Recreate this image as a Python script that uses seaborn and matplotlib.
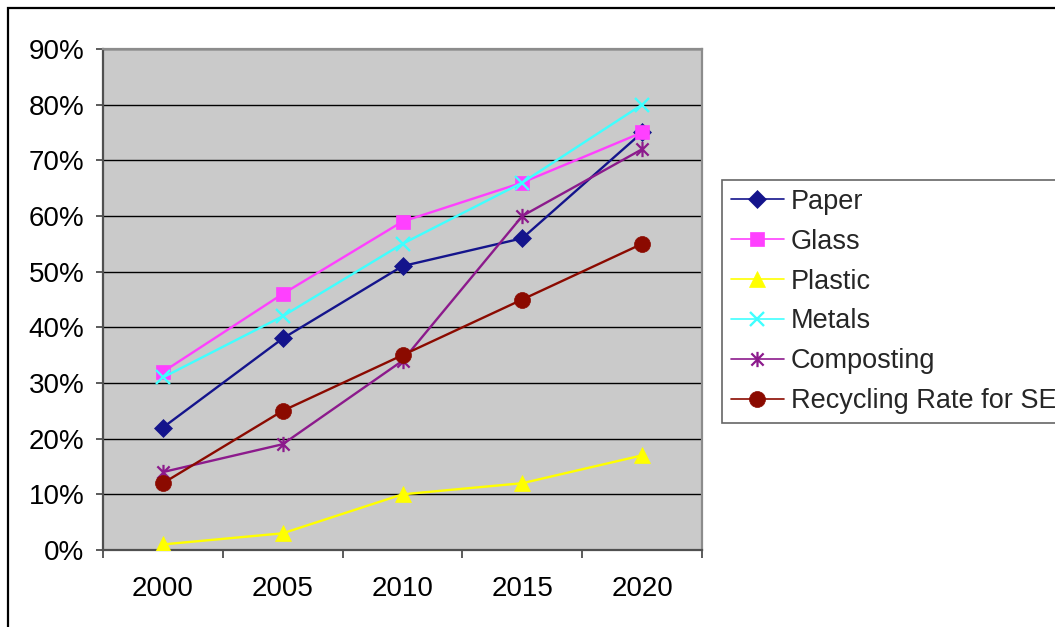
import matplotlib
matplotlib.use("Agg")
import matplotlib.pyplot as plt
from matplotlib.path import Path
from matplotlib.patches import Rectangle
from matplotlib.ticker import FixedLocator, PercentFormatter, NullFormatter
import seaborn as sns
import pandas as pd

# Recycling rates by material, share of waste stream
years = ["2000", "2005", "2010", "2015", "2020"]
paper = [0.22, 0.38, 0.51, 0.56, 0.75]
glass = [0.32, 0.46, 0.59, 0.66, 0.75]
plastic = [0.01, 0.03, 0.10, 0.12, 0.17]
metals = [0.31, 0.42, 0.55, 0.66, 0.80]
composting = [0.14, 0.19, 0.34, 0.60, 0.72]
overall = [0.12, 0.25, 0.35, 0.45, 0.55]

series_names = ["Paper", "Glass", "Plastic", "Metals", "Composting",
                "Recycling Rate for SE"]
series_values = [paper, glass, plastic, metals, composting, overall]

# asterisk marker: an X crossed by a vertical stroke
star = Path(
    [(-1, -1), (1, 1), (-1, 1), (1, -1), (0, -1.25), (0, 1.25)],
    [Path.MOVETO, Path.LINETO, Path.MOVETO, Path.LINETO, Path.MOVETO, Path.LINETO],
)

styles = {
    "Paper": dict(color="#14148C", marker="D", ms=9),
    "Glass": dict(color="#FF40FF", marker="s", ms=10),
    "Plastic": dict(color="#FFFF00", marker="^", ms=11.5),
    "Metals": dict(color="#40FFFF", marker="x", ms=10, mew=1.7),
    "Composting": dict(color="#8C1A8C", marker=star, ms=11, mew=1.6),
    "Recycling Rate for SE": dict(color="#8B0A00", marker="o", ms=11.5),
}

sns.set_theme(style="white")
plt.rcParams["font.family"] = ["Liberation Sans", "DejaVu Sans"]

fig = plt.figure(figsize=(10.55, 6.27), dpi=100)
ax = fig.add_axes([103 / 1055, 1 - 550 / 627, 599 / 1055, 501 / 627])
ax.set_facecolor("#CACACA")

df = pd.DataFrame({"year": years})
df["pos"] = range(len(years))
for name, vals in zip(series_names, series_values):
    st = styles[name]
    sns.lineplot(
        x=df["pos"], y=vals, ax=ax, color=st["color"], marker=st["marker"],
        markersize=st["ms"], markeredgewidth=st.get("mew", 0.5),
        markeredgecolor=st["color"], markerfacecolor=st["color"],
        linewidth=1.7, label=name, zorder=3,
    )

ax.set_xlim(-0.5, len(years) - 0.5)
ax.set_ylim(0, 0.9)
ax.set_xlabel("")
ax.set_ylabel("")

# category axis: tick marks between categories, labels at their centres
ax.xaxis.set_major_locator(FixedLocator([i - 0.5 for i in range(len(years) + 1)]))
ax.xaxis.set_major_formatter(NullFormatter())
ax.xaxis.set_minor_locator(FixedLocator(list(df["pos"])))
ax.set_xticklabels(years, minor=True)
ax.tick_params(axis="x", which="major", direction="out", length=6, width=1.2,
               color="#404040", bottom=True)
ax.tick_params(axis="x", which="minor", length=0, pad=19, labelsize=20,
               labelcolor="black", bottom=True)

ax.set_yticks([i / 10 for i in range(10)])
ax.yaxis.set_major_formatter(PercentFormatter(1.0, decimals=0))
ax.tick_params(axis="y", direction="out", length=5, width=1.2, color="#404040",
               pad=8.5, labelsize=20, labelcolor="black", left=True)

ax.grid(axis="y", color="black", linewidth=1.0)
ax.grid(axis="x", visible=False)
ax.set_axisbelow(True)

for side in ("left", "bottom"):
    ax.spines[side].set_color("#505050")
    ax.spines[side].set_linewidth(1.6)
for side in ("top", "right"):
    ax.spines[side].set_color("#8C8C8C")
    ax.spines[side].set_linewidth(1.6)

if ax.legend_:
    ax.legend_.remove()
handles, labels = ax.get_legend_handles_labels()
leg = fig.legend(
    handles, labels, loc="upper left",
    bbox_to_anchor=(722 / 1055, 1 - 180 / 627), bbox_transform=fig.transFigure,
    borderaxespad=0, frameon=True, fancybox=False, fontsize=19.5,
    handlelength=1.95, handletextpad=0.27, labelspacing=0.51, borderpad=0.33,
    numpoints=1,
)
leg.get_frame().set_edgecolor("#404040")
leg.get_frame().set_linewidth(1.2)
leg.get_frame().set_facecolor("white")
for h in leg.legend_handles:
    h.set_linewidth(1.2)

# chart-area border
fig.add_artist(Rectangle((8 / 1055, -0.1), 1.2, 1 - 8 / 627 + 0.1,
                         transform=fig.transFigure, fill=False,
                         edgecolor="black", linewidth=1.6))

fig.savefig("out.png", dpi=100)
